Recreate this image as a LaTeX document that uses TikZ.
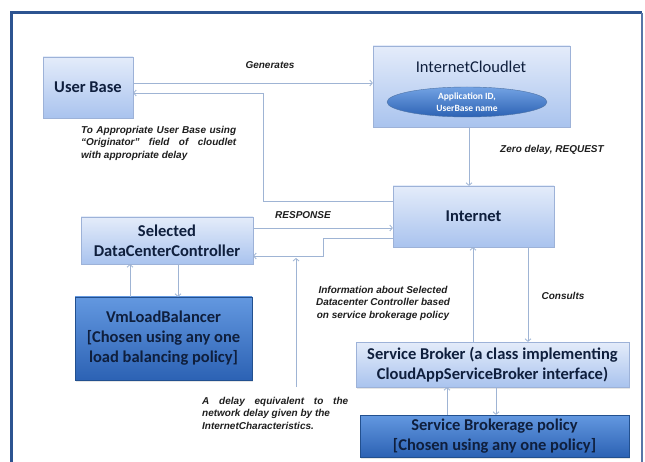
\documentclass[tikz,border=0pt]{standalone}
\usepackage{fontspec}
\setmainfont{Carlito}
\newfontfamily\lblfont{Liberation Sans}
\usetikzlibrary{arrows.meta,shapes.geometric,shadows}

\definecolor{framecol}{HTML}{2D5491}
\definecolor{lighttop}{HTML}{E4ECFA}
\definecolor{lightbot}{HTML}{A9C3EE}
\definecolor{lightedge}{HTML}{9DB2D8}
\definecolor{darktop}{HTML}{6398E0}
\definecolor{darkbot}{HTML}{2C62B4}
\definecolor{darkedge}{HTML}{22508F}
\definecolor{linkcol}{HTML}{9FB4D4}
\definecolor{lbltext}{HTML}{1E1E1E}
\definecolor{boxtext}{HTML}{0F1F3D}

\begin{document}
\begin{tikzpicture}[x=1pt,y=-1pt,
  lightbox/.style={rectangle, draw=lightedge, top color=lighttop, bottom color=lightbot,
    drop shadow={opacity=0.2,shadow xshift=1pt,shadow yshift=-1.5pt},
    inner sep=0pt, align=center, text=boxtext, font=\bfseries\fontsize{16.5}{20}\selectfont},
  darkbox/.style={lightbox, draw=darkedge, top color=darktop, bottom color=darkbot},
  conn/.style={draw=linkcol, line width=0.8pt, -{Straight Barb[length=2.5pt,width=6pt]}},
  lbl/.style={inner sep=0pt, text=lbltext, font=\lblfont\bfseries\itshape\fontsize{10}{12.5}\selectfont}]
\path[use as bounding box] (0,0) rectangle (645,462);
\draw[framecol, line width=3pt] (11,462) -- (11,13) -- (642,13);
\draw[framecol!80, line width=1.5pt] (642,13) -- (642,462);

\node[lightbox, minimum width=90pt, minimum height=61pt] (ub) at (88,87.5) {User Base};
\node[lightbox, minimum width=197pt, minimum height=81pt] (cl) at (471.5,86.5) {};
\node[inner sep=0pt, text=boxtext, font=\fontsize{16.5}{20}\selectfont] (cltitle) at (471,67) {InternetCloudlet};
\node[ellipse, draw=darkedge!80, top color=darktop!90, bottom color=darkbot, minimum width=160pt, minimum height=30pt,
  inner sep=0pt, align=center, text=white, font=\bfseries\fontsize{9.5}{12}\selectfont] (appid) at (467,102) {Application ID,\\UserBase name};
\node[lightbox, minimum width=161pt, minimum height=61pt] (inet) at (473.5,216.5) {Internet};
\node[lightbox, minimum width=172pt, minimum height=47pt] (dcc) at (167,240.5) {Selected\\DataCenterController};
\node[darkbox, minimum width=177pt, minimum height=83pt] (vmlb) at (163.5,338.5) {VmLoadBalancer\\{}[Chosen using any one\\load balancing policy]};
\node[lightbox, minimum width=273pt, minimum height=45pt] (sb) at (492.5,364.5) {Service Broker (a class implementing\\CloudAppServiceBroker interface)};
\node[darkbox, minimum width=269pt, minimum height=42pt] (sbp) at (494.5,436) {Service Brokerage policy\\{}[Chosen using any one policy]};

% labels
\node[lbl] (gen) at (270,65) {Generates};
\node[lbl, text width=155pt, align=justify, anchor=north west] (orig) at (81,126) {To Appropriate User Base using\linebreak “Originator” field of cloudlet\linebreak with appropriate delay};
\node[lbl] (zero) at (552,150) {Zero delay, REQUEST};
\node[lbl] (resp) at (303,215) {RESPONSE};
\node[lbl, align=center] (info) at (383,303) {Information about Selected\\Datacenter Controller based\\on service brokerage policy};
\node[lbl] (cons) at (563,296) {Consults};
\node[lbl, text width=146pt, align=justify, anchor=north west] (delay) at (202,397) {A delay equivalent to the\linebreak network delay given by the\newline InternetCharacteristics.};

% connectors
\coordinate (retx) at (263,0);
\coordinate (bendx) at (323,0);
\coordinate (ubin) at ([yshift=-5.5pt]ub.east);
\coordinate (dccin) at ([yshift=-15.5pt]dcc.east);
\coordinate (dly) at (296,387);
\draw[conn] ([yshift=4.5pt]ub.east) -- ([yshift=4.5pt]ub.east -| cl.west);
\draw[conn] ([yshift=15.5pt]inet.west) -| (retx |- ubin) -- (ubin);
\draw[conn] ([xshift=-2.5pt]cl.south) -- ([xshift=-2.5pt]cl.south |- inet.north);
\draw[conn] ([yshift=12.5pt]dcc.east) -- ([yshift=12.5pt]dcc.east -| inet.west);
\draw[conn] ([yshift=-21.5pt]inet.west) -| (bendx |- dccin) -- (dccin);
\draw[conn, shorten >=2pt] (dly) -- (dly |- dccin);
\draw[conn] ([xshift=-33.5pt]vmlb.north) -- ([xshift=-33.5pt]vmlb.north |- dcc.south);
\draw[conn] ([xshift=14.5pt]vmlb.north |- dcc.south) -- ([xshift=14.5pt]vmlb.north);
\draw[conn] ([xshift=-19.5pt]sb.north) -- ([xshift=-19.5pt]sb.north |- inet.south);
\draw[conn] ([xshift=54.5pt]inet.south) -- ([xshift=54.5pt]inet.south |- sb.north);
\draw[conn] ([xshift=-47.5pt]sbp.north) -- ([xshift=-47.5pt]sbp.north |- sb.south);
\draw[conn] ([xshift=3.5pt]sb.south) -- ([xshift=3.5pt]sb.south |- sbp.north);
\end{tikzpicture}
\end{document}
